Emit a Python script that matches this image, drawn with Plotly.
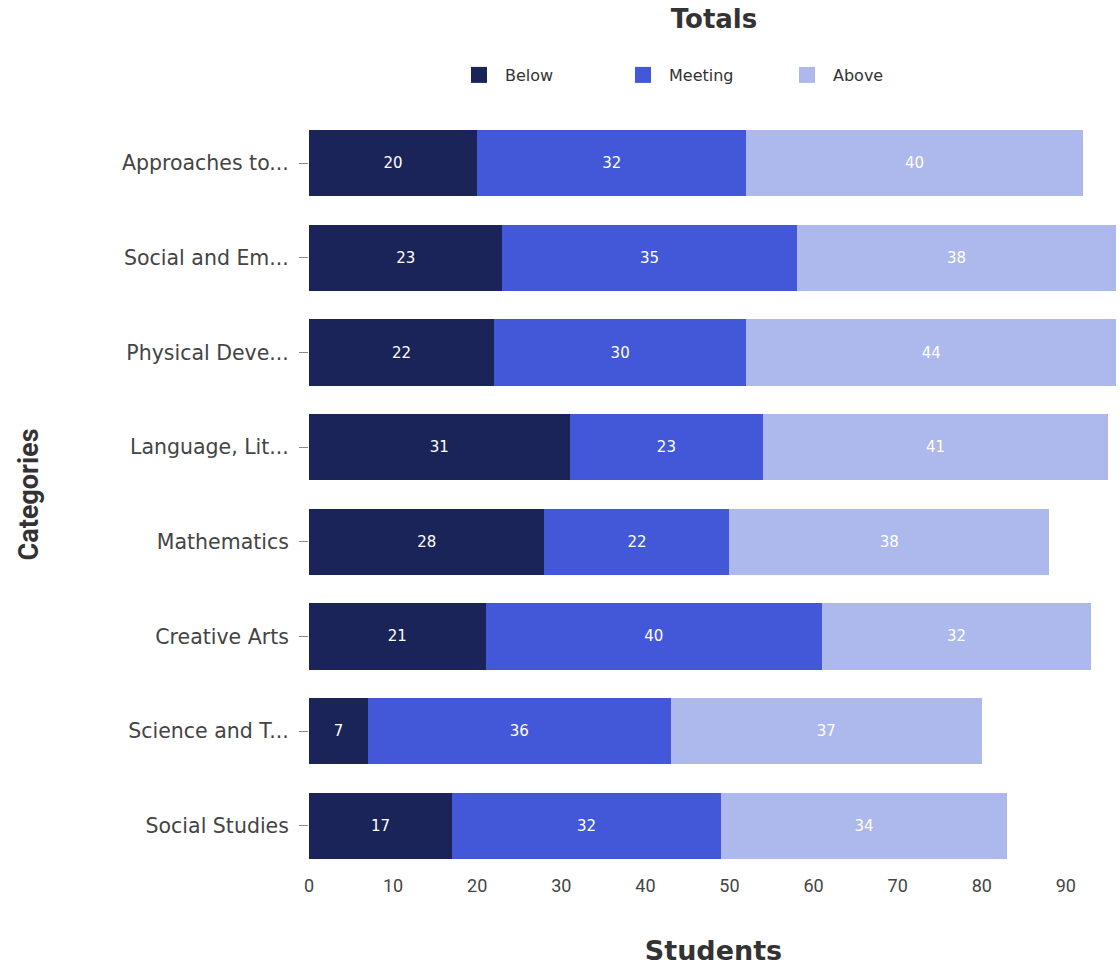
import plotly.graph_objects as go

categories = ["Approaches to...", "Social and Em...", "Physical Deve...", "Language, Lit...",
              "Mathematics", "Creative Arts", "Science and T...", "Social Studies"]
below = [20, 23, 22, 31, 28, 21, 7, 17]
meeting = [32, 35, 30, 23, 22, 40, 36, 32]
above = [40, 38, 44, 41, 38, 32, 37, 34]
x_ticks = [0, 10, 20, 30, 40, 50, 60, 70, 80, 90]

series = [("Below", below, "#1b2459"), ("Meeting", meeting, "#4258d8"), ("Above", above, "#adb8ec")]

fig = go.Figure()
for name, vals, color in series:
    fig.add_trace(go.Bar(
        y=categories, x=vals, name=name, orientation="h",
        marker=dict(color=color, line=dict(width=0)),
        text=vals, textposition="inside", insidetextanchor="middle",
        textfont=dict(color="white", size=15, family="DejaVu Sans"),
        width=0.7, showlegend=False,
    ))
# legend entries with larger square swatches
for name, vals, color in series:
    fig.add_trace(go.Scatter(
        x=[None], y=[None], mode="markers", name=name,
        marker=dict(symbol="square", size=22, color=color),
        showlegend=True,
    ))

fig.update_layout(
    barmode="stack",
    width=1120, height=972,
    plot_bgcolor="white", paper_bgcolor="white",
    margin=dict(l=309, r=2, t=116, b=99),
    title=dict(text="<b>Totals</b>", x=714/1120, xanchor="center", xref="container",
               y=1 - 19/972, yanchor="middle", yref="container",
               font=dict(family="DejaVu Sans", size=26, color="#333333")),
    legend=dict(orientation="h", xref="container", yref="container",
                x=453/1120, xanchor="left", y=1 - 75/972, yanchor="middle",
                itemwidth=42, entrywidth=107, itemsizing="trace",
                font=dict(family="DejaVu Sans", size=16, color="#333333"),
                traceorder="normal"),
    showlegend=True,
    bargap=0.3,
)
fig.update_xaxes(
    range=[0, 96.2], tickvals=x_ticks, showgrid=False, zeroline=False, showline=False,
    ticks="", tickfont=dict(family="Roboto", size=18, color="#444444"),
    title=dict(text="<b>Students</b>", font=dict(family="DejaVu Sans", size=27, color="#333333"), standoff=46),
)
fig.update_yaxes(
    categoryorder="array", categoryarray=categories[::-1],
    showgrid=False, zeroline=False, showline=False,
    ticks="outside", ticklen=9, tickcolor="#888888", tickwidth=1,
    ticklabelstandoff=6,
    tickfont=dict(family="DejaVu Sans", size=20.5, color="#444444"),
    title=dict(text="<b>Categories</b>", font=dict(family="Roboto", size=27, color="#333333"), standoff=75),
)

fig.write_html("out.html")
